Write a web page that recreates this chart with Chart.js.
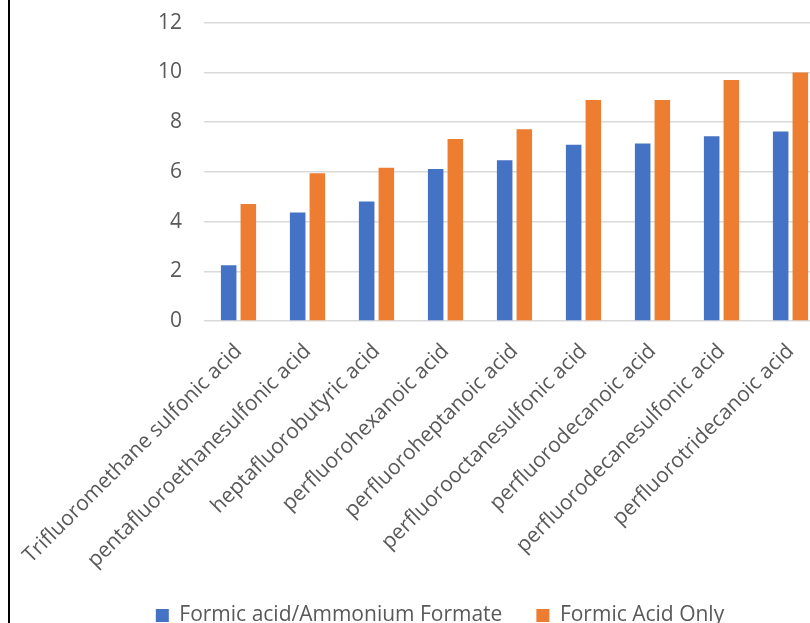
<!DOCTYPE html>
<html>
<head>
<meta charset="utf-8">
<script src="https://cdn.jsdelivr.net/npm/chart.js@4/dist/chart.umd.min.js"></script>
<style>
  html, body { margin: 0; padding: 0; background: #fff; overflow: hidden; width: 810px; height: 623px; }
  #wrap { position: absolute; left: 8px; top: 0; width: 860px; height: 636px; border-left: 2px solid #000; }
  #c { display: block; }
</style>
</head>
<body>
<div id="wrap"><canvas id="c" width="860" height="636"></canvas></div>
<script>
const categories = [
  "Trifluoromethane sulfonic acid",
  "pentafluoroethanesulfonic acid",
  "heptafluorobutyric acid",
  "perfluorohexanoic acid",
  "perfluoroheptanoic acid",
  "perfluorooctanesulfonic acid",
  "perfluorodecanoic acid",
  "perfluorodecanesulfonic acid",
  "perfluorotridecanoic acid"
];
const formicAmmonium = [2.24, 4.36, 4.81, 6.11, 6.46, 7.09, 7.14, 7.43, 7.62];
const formicOnly = [4.71, 5.94, 6.16, 7.32, 7.71, 8.89, 8.89, 9.69, 9.99];
const seriesNames = ["Formic acid/Ammonium Formate", "Formic Acid Only"];
const yTicks = [0, 2, 4, 6, 8, 10, 12];

const FONT = "'Open Sans', sans-serif";
const GREY = "#595959";

new Chart(document.getElementById('c'), {
  type: 'bar',
  data: {
    labels: categories,
    datasets: [
      { label: seriesNames[0], data: formicAmmonium, backgroundColor: '#4472C4', categoryPercentage: 0.57, barPercentage: 0.79 },
      { label: seriesNames[1], data: formicOnly, backgroundColor: '#ED7D31', categoryPercentage: 0.57, barPercentage: 0.79 }
    ]
  },
  options: {
    responsive: false,
    animation: false,
    layout: { padding: 0 },
    plugins: {
      tooltip: { enabled: false },
      legend: {
        position: 'bottom',
        labels: {
          boxWidth: 13, boxHeight: 13, padding: 34,
          color: GREY,
          font: { family: FONT, size: 21 }
        }
      }
    },
    scales: {
      x: {
        grid: { display: false },
        border: { display: false },
        ticks: {
          color: GREY, font: { family: FONT, size: 21 },
          minRotation: 45, maxRotation: 45, padding: 10, autoSkip: false
        },
        afterFit: (s) => { s.height = 250; s.paddingLeft = 0; s.paddingRight = 45; }
      },
      y: {
        min: 0, max: 12,
        afterBuildTicks: (s) => { s.ticks = yTicks.map(v => ({ value: v })); },
        grid: { color: '#d9d9d9', lineWidth: 1.5, drawTicks: true, tickLength: 12, tickColor: 'rgba(0,0,0,0)' },
        border: { display: false },
        ticks: { color: GREY, font: { family: FONT, size: 21 }, padding: 10 },
        afterFit: (s) => { s.width = 194; }
      }
    }
  }
});
</script>
</body>
</html>
